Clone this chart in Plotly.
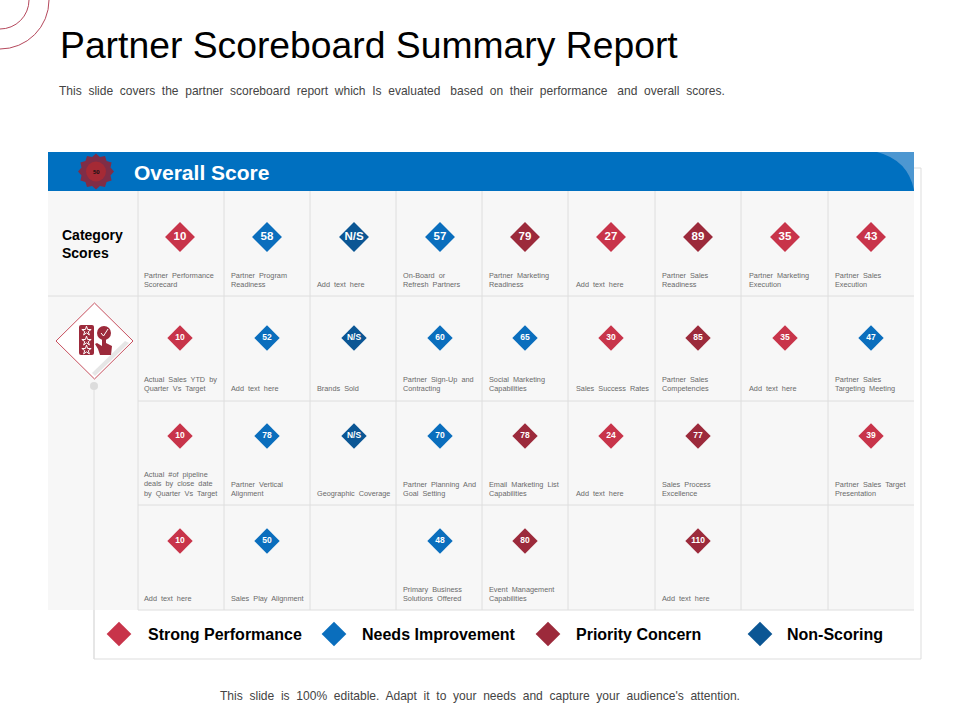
import math

import plotly.graph_objects as go

# score table, one list per row, None = empty cell
row_values = [
    [10, 58, "N/S", 57, 79, 27, 89, 35, 43],
    [10, 52, "N/S", 60, 65, 30, 85, 35, 47],
    [10, 78, "N/S", 70, 78, 24, 77, None, 39],
    [10, 50, None, 48, 80, None, 110, None, None],
]
row_status = [
    ["S", "N", "X", "N", "P", "S", "P", "S", "S"],
    ["S", "N", "X", "N", "N", "S", "P", "S", "N"],
    ["S", "N", "X", "N", "P", "S", "P", None, "S"],
    ["S", "N", None, "N", "P", None, "P", None, None],
]
row_labels = [
    ["Partner Performance<br>Scorecard", "Partner Program<br>Readiness", "Add text here",
     "On-Board or<br>Refresh Partners", "Partner Marketing<br>Readiness", "Add text here",
     "Partner Sales<br>Readiness", "Partner Marketing<br>Execution", "Partner Sales<br>Execution"],
    ["Actual Sales YTD by<br>Quarter Vs Target", "Add text here", "Brands Sold",
     "Partner Sign-Up and<br>Contracting", "Social Marketing<br>Capabilities", "Sales Success Rates",
     "Partner Sales<br>Competencies", "Add text here", "Partner Sales<br>Targeting Meeting"],
    ["Actual #of pipeline<br>deals by close date<br>by Quarter Vs Target", "Partner Vertical<br>Alignment",
     "Geographic Coverage", "Partner Planning And<br>Goal Setting", "Email Marketing List<br>Capabilities",
     "Add text here", "Sales Process<br>Excellence", None, "Partner Sales Target<br>Presentation"],
    ["Add text here", "Sales Play Alignment", None, "Primary Business<br>Solutions Offered",
     "Event Management<br>Capabilities", None, "Add text here", None, None],
]
legend_names = ["Strong Performance", "Needs Improvement", "Priority Concern", "Non-Scoring"]
legend_keys = ["S", "N", "P", "X"]
overall_score = 50

COLORS = {"S": "#c8344a", "N": "#0a6ebd", "P": "#9c2a3b", "X": "#0b5694"}
GRID = "#dedede"
COL_EDGES = [138, 224, 310, 396, 482, 568, 655, 741, 828, 914]
ROW_EDGES = [191, 296, 401, 505, 610]
COL_X = [180, 267, 354, 440, 525, 611, 698, 785, 871]
ROW_Y = [237, 338, 436, 541]
LABEL_X = [143, 230, 316, 402, 488, 575, 661, 748, 834]
LABEL_BOTTOM = [290, 394, 499, 604]
LEGEND_X = [119, 334, 548, 760]
LEGEND_TEXT_X = [147, 361, 575, 786]
FONT = "Liberation Sans, Arial, sans-serif"

fig = go.Figure()
shapes = []
annotations = []


def wide(s):
    # the slide text has loose word spacing
    return s.replace(" ", "  ")


def text(x, y, s, size, color="#000000", xanchor="left", yanchor="middle", bold=False, align="left"):
    annotations.append(dict(
        x=x, y=y, text=f"<b>{s}</b>" if bold else s, showarrow=False, xanchor=xanchor, yanchor=yanchor,
        align=align, xref="x", yref="y", borderpad=0, font=dict(family=FONT, size=size, color=color),
    ))


def rect(x0, y0, x1, y1, fill, line=None, width=1):
    shapes.append(dict(type="rect", x0=x0, y0=y0, x1=x1, y1=y1, fillcolor=fill,
                       line=dict(color=line or fill, width=width if line else 0), layer="below"))


def seg(x0, y0, x1, y1, color=GRID, width=1):
    shapes.append(dict(type="line", x0=x0, y0=y0, x1=x1, y1=y1, line=dict(color=color, width=width), layer="below"))


def path(d, fill, line=None, width=1):
    shapes.append(dict(type="path", path=d, fillcolor=fill, line=dict(color=line or fill, width=width if line else 0),
                       layer="below"))


def disc(cx, cy, r, fill):
    shapes.append(dict(type="circle", x0=cx - r, y0=cy - r, x1=cx + r, y1=cy + r, fillcolor=fill,
                       line=dict(width=0), layer="below"))


# corner arcs
for r in (29, 49):
    shapes.append(dict(type="circle", x0=-r, y0=-r, x1=r, y1=r, line=dict(color="#b5485c", width=1),
                       fillcolor="rgba(0,0,0,0)", layer="below"))

# outer frame, table background and grid
rect(94, 168, 921, 659, "#ffffff", "#dddddd")
rect(48, 191, 914, 610, "#f7f7f7")
for x in COL_EDGES[:-1]:
    seg(x, 191, x, 610)
seg(48, 296, 914, 296)
for y in ROW_EDGES[2:]:
    seg(138, y, 914, y)
seg(94, 386, 94, 659)

# header band
rect(48, 152, 914, 191, "#0070c0")
path("M 877,152 Q 908,160 914,190 L 914,152 Z", "#4d97d1")

# gear badge
gear = []
for i in range(24):
    a = math.pi * 2 * i / 24
    rad = 18 if i % 2 == 0 else 15
    gear.append(f"{96 + rad * math.sin(a):.1f},{171.5 - rad * math.cos(a):.1f}")
path("M " + " L ".join(gear) + " Z", "#7f2d47")
disc(96, 171.5, 10, "#a52a35")

# big icon diamond
path("M 94.5,303 L 133,341 L 94.5,379 L 56,341 Z", "#ffffff", "#c8505f")
path("M 129,343 L 95,376 L 92,373 L 125,341 Z", "#e6e6e6")
path("M 81,325 L 92,325 Q 94,325 94,327 L 94,353 Q 94,355 92,355 L 81,355 Q 79,355 79,353 L 79,327 Q 79,325 81,325 Z",
     "#9c2a3b")
disc(104, 333, 7, "#9c2a3b")
path("M 101,333 L 103.5,336 L 108,329", "rgba(0,0,0,0)", "#ffffff", 1)
path("M 102,337 L 106,337 L 106,343 L 112,346 L 111,355 L 100,355 L 98,349 L 95,344 L 97,343 L 102,346 Z",
     "#9c2a3b")

# markers and values
xs, ys, cs, ts, sizes, tsize = [], [], [], [], [], []
for r, (vals, stats, labels) in enumerate(zip(row_values, row_status, row_labels)):
    for c, (v, st, lab) in enumerate(zip(vals, stats, labels)):
        if lab is not None:
            text(LABEL_X[c], LABEL_BOTTOM[r], wide(lab), 7.3, "#6a6a6a", yanchor="bottom")
        if v is None:
            continue
        xs.append(COL_X[c])
        ys.append(ROW_Y[r])
        cs.append(COLORS[st])
        ts.append(f"<b>{v}</b>")
        sizes.append(23 if r == 0 else 19.5)
        tsize.append(11.5 if r == 0 else 8.5)

fig.add_trace(go.Scatter(x=xs, y=ys, mode="markers+text", text=ts, textposition="middle center",
                         textfont=dict(family=FONT, color="#ffffff", size=tsize),
                         marker=dict(symbol="diamond", size=sizes, color=cs, opacity=1, line=dict(width=0)),
                         hoverinfo="skip", showlegend=False))
# legend row
fig.add_trace(go.Scatter(x=LEGEND_X, y=[634] * 4, mode="markers",
                         marker=dict(symbol="diamond", size=19, color=[COLORS[k] for k in legend_keys], line=dict(width=0)),
                         hoverinfo="skip", showlegend=False))
for x, name in zip(LEGEND_TEXT_X, legend_names):
    text(x, 634, name, 16, bold=True)

# stars on the icon, connector dot
fig.add_trace(go.Scatter(x=[86.5, 86.5, 86.5], y=[331, 341, 350], mode="markers",
                         marker=dict(symbol="star-open", size=7, color="#ffffff", line=dict(width=1, color="#ffffff")),
                         hoverinfo="skip", showlegend=False))
fig.add_trace(go.Scatter(x=[94], y=[386], mode="markers", marker=dict(size=8, color="#dcdcdc"),
                         hoverinfo="skip", showlegend=False))

text(58.5, 45, "Partner Scoreboard Summary Report", 37.3)
subtitle = wide("This slide covers the partner scoreboard report which Is evaluated based on their performance and overall scores.")
subtitle = subtitle.replace("evaluated  ", "evaluated   ").replace("performance  ", "performance   ")
text(57.5, 91, subtitle, 12.03, "#444444")
text(133, 172, "Overall Score", 21, "#ffffff", bold=True)
text(96, 172, str(overall_score), 6, "#111111", xanchor="center", bold=True)
text(61, 235, "Category", 14, bold=True)
text(61, 253, "Scores", 14, bold=True)
text(480, 696, wide("This slide is 100% editable. Adapt it to your needs and capture your audience's attention."), 12.05,
     "#444444", xanchor="center")

fig.update_layout(
    width=960, height=720, margin=dict(l=0, r=0, t=0, b=0), paper_bgcolor="#ffffff", plot_bgcolor="#ffffff",
    xaxis=dict(range=[0, 960], visible=False, fixedrange=True),
    yaxis=dict(range=[720, 0], visible=False, fixedrange=True),
    shapes=shapes, annotations=annotations, showlegend=False,
)
fig.write_html("out.html", config={"displayModeBar": False},
               post_script="document.body.style.margin='0';")
